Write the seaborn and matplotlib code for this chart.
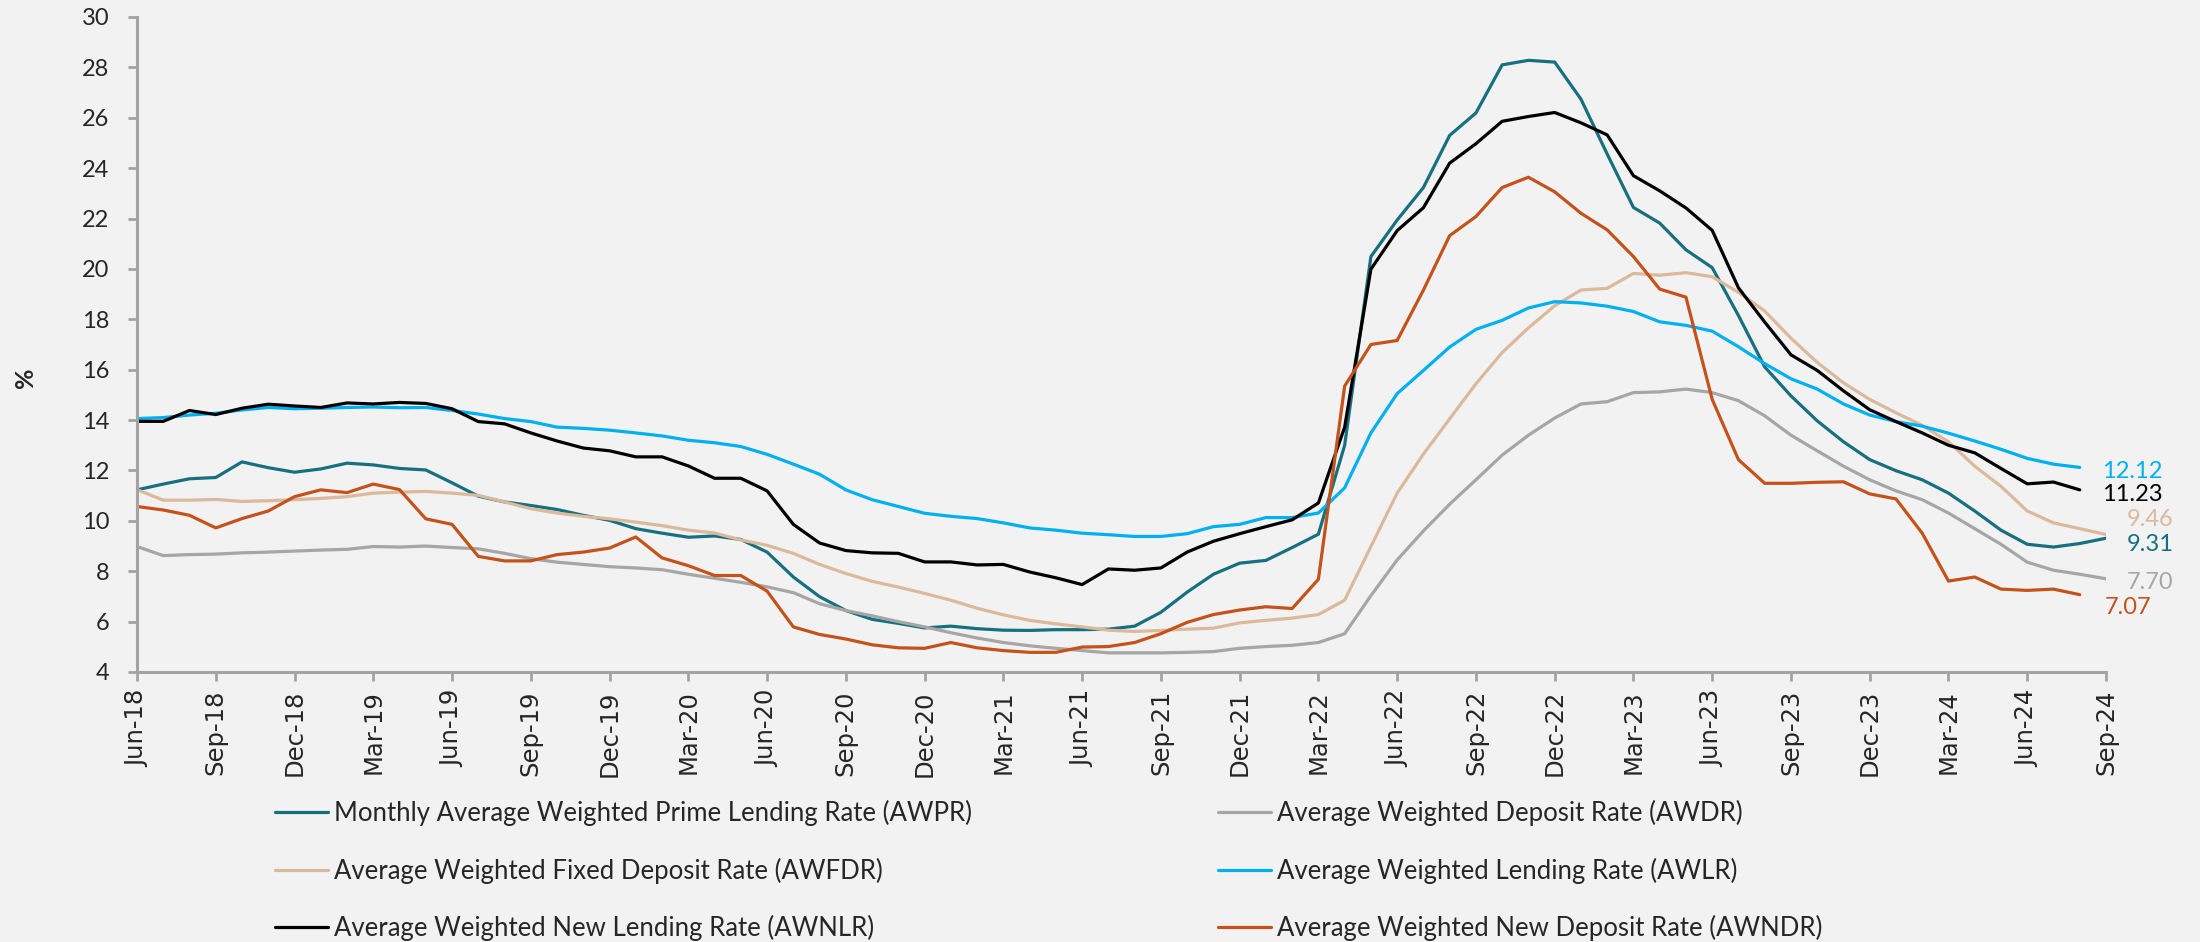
import numpy as np
import pandas as pd
import matplotlib
matplotlib.use("Agg")
import matplotlib.pyplot as plt
import seaborn as sns

# Monthly category axis, Jun-18 .. Sep-24
months = pd.date_range("2018-06-01", "2024-09-01", freq="MS").strftime("%b-%y").tolist()

# Rates in percent
awpr = [11.23, 11.46, 11.67, 11.72, 12.34, 12.11, 11.93, 12.06, 12.29, 12.22, 12.08, 12.02,
        11.51, 10.98, 10.75, 10.61, 10.45, 10.22, 10.02, 9.69, 9.51, 9.35, 9.40, 9.26,
        8.76, 7.77, 6.99, 6.44, 6.09, 5.93, 5.75, 5.82, 5.72, 5.66, 5.65, 5.68,
        5.68, 5.70, 5.82, 6.37, 7.17, 7.88, 8.32, 8.43, 8.94, 9.47, 13.00, 20.49,
        21.94, 23.23, 25.30, 26.19, 28.10, 28.28, 28.21, 26.74, 24.56, 22.44, 21.82, 20.76,
        20.05, 18.15, 16.11, 14.96, 13.97, 13.14, 12.43, 11.99, 11.63, 11.10, 10.39, 9.63,
        9.07, 8.96, 9.10, 9.31]

awdr = [8.98, 8.62, 8.66, 8.68, 8.73, 8.76, 8.80, 8.84, 8.87, 8.98, 8.96, 9.00,
        8.94, 8.89, 8.71, 8.50, 8.36, 8.27, 8.18, 8.13, 8.06, 7.88, 7.72, 7.56,
        7.38, 7.15, 6.71, 6.44, 6.23, 6.00, 5.79, 5.56, 5.35, 5.17, 5.04, 4.94,
        4.85, 4.76, 4.76, 4.76, 4.78, 4.81, 4.94, 5.01, 5.06, 5.17, 5.52, 7.03,
        8.45, 9.60, 10.66, 11.63, 12.61, 13.40, 14.08, 14.64, 14.73, 15.09, 15.12, 15.23,
        15.09, 14.77, 14.17, 13.40, 12.78, 12.17, 11.63, 11.19, 10.84, 10.31, 9.69, 9.07,
        8.36, 8.04, 7.88, 7.70]

awfdr = [11.24, 10.82, 10.82, 10.85, 10.77, 10.80, 10.84, 10.89, 10.96, 11.10, 11.14, 11.17,
         11.10, 11.01, 10.75, 10.48, 10.31, 10.18, 10.08, 9.95, 9.81, 9.63, 9.52, 9.24,
         9.03, 8.71, 8.27, 7.91, 7.60, 7.37, 7.12, 6.85, 6.53, 6.27, 6.05, 5.91,
         5.79, 5.66, 5.61, 5.65, 5.70, 5.74, 5.95, 6.05, 6.14, 6.28, 6.85, 8.98,
         11.10, 12.65, 14.05, 15.44, 16.68, 17.66, 18.54, 19.16, 19.23, 19.82, 19.75, 19.85,
         19.69, 19.07, 18.33, 17.25, 16.29, 15.48, 14.82, 14.29, 13.79, 13.14, 12.17, 11.37,
         10.39, 9.92, 9.69, 9.46]

awlr = [14.06, 14.10, 14.20, 14.27, 14.40, 14.50, 14.45, 14.47, 14.50, 14.52, 14.49, 14.50,
        14.38, 14.24, 14.06, 13.94, 13.72, 13.67, 13.60, 13.49, 13.37, 13.20, 13.10, 12.95,
        12.64, 12.25, 11.85, 11.23, 10.84, 10.57, 10.30, 10.18, 10.09, 9.92, 9.72, 9.63,
        9.51, 9.45, 9.38, 9.38, 9.49, 9.77, 9.86, 10.13, 10.13, 10.31, 11.31, 13.49,
        15.05, 15.97, 16.90, 17.60, 17.96, 18.45, 18.70, 18.65, 18.52, 18.31, 17.90, 17.76,
        17.53, 16.91, 16.24, 15.64, 15.23, 14.64, 14.20, 13.94, 13.76, 13.48, 13.17, 12.84,
        12.48, 12.25, 12.12]

awnlr = [13.95, 13.95, 14.38, 14.22, 14.47, 14.63, 14.56, 14.50, 14.68, 14.64, 14.70, 14.66,
         14.45, 13.94, 13.85, 13.49, 13.17, 12.89, 12.78, 12.54, 12.54, 12.18, 11.69, 11.69,
         11.19, 9.86, 9.12, 8.82, 8.73, 8.71, 8.37, 8.37, 8.25, 8.27, 7.97, 7.74,
         7.47, 8.09, 8.04, 8.13, 8.76, 9.19, 9.49, 9.77, 10.04, 10.71, 13.72, 19.99,
         21.52, 22.43, 24.20, 24.97, 25.86, 26.05, 26.21, 25.80, 25.32, 23.70, 23.10, 22.42,
         21.53, 19.25, 17.89, 16.59, 15.97, 15.16, 14.41, 13.94, 13.49, 13.00, 12.70, 12.08,
         11.47, 11.54, 11.23]

awndr = [10.57, 10.43, 10.22, 9.72, 10.09, 10.39, 10.96, 11.23, 11.12, 11.46, 11.24, 10.08,
         9.86, 8.59, 8.41, 8.41, 8.66, 8.76, 8.92, 9.36, 8.53, 8.22, 7.83, 7.83,
         7.21, 5.79, 5.49, 5.31, 5.08, 4.96, 4.94, 5.17, 4.96, 4.85, 4.78, 4.78,
         4.99, 5.01, 5.17, 5.52, 5.97, 6.28, 6.46, 6.59, 6.52, 7.68, 15.35, 17.00,
         17.16, 19.16, 21.32, 22.08, 23.23, 23.64, 23.06, 22.21, 21.55, 20.49, 19.20, 18.88,
         14.82, 12.43, 11.49, 11.49, 11.53, 11.55, 11.07, 10.87, 9.51, 7.61, 7.77, 7.29,
         7.24, 7.29, 7.07]

series = [
    ("Monthly Average Weighted Prime Lending Rate (AWPR)", awpr, "#17707f"),
    ("Average Weighted Deposit Rate (AWDR)", awdr, "#a6a6a6"),
    ("Average Weighted Fixed Deposit Rate (AWFDR)", awfdr, "#dbb99c"),
    ("Average Weighted Lending Rate (AWLR)", awlr, "#00b0f0"),
    ("Average Weighted New Lending Rate (AWNLR)", awnlr, "#000000"),
    ("Average Weighted New Deposit Rate (AWNDR)", awndr, "#c4521a"),
]

# end-of-line value labels: (dx, dy) offsets in points
label_offsets = {
    "Monthly Average Weighted Prime Lending Rate (AWPR)": (15, -4.5),
    "Average Weighted Deposit Rate (AWDR)": (15, -3),
    "Average Weighted Fixed Deposit Rate (AWFDR)": (15, 10.5),
    "Average Weighted Lending Rate (AWLR)": (16, -3),
    "Average Weighted New Lending Rate (AWNLR)": (16, -3),
    "Average Weighted New Deposit Rate (AWNDR)": (18, -9.5),
}

frames = []
for name, vals, _ in series:
    frames.append(pd.DataFrame({"idx": np.arange(len(vals)), "rate": vals, "series": name}))
df = pd.concat(frames, ignore_index=True)

sns.set_style("white")
plt.rcParams["font.family"] = ["Lato", "DejaVu Sans"]

bg = "#f2f2f2"
spine_c = "#a3a3a3"
fig = plt.figure(figsize=(22, 9.42), dpi=100, facecolor=bg)
ax = fig.add_axes([137 / 2200, 1 - 672 / 942, (2106 - 137) / 2200, (672 - 17) / 942])
ax.set_facecolor(bg)

palette = {name: c for name, _, c in series}
sns.lineplot(data=df, x="idx", y="rate", hue="series", hue_order=[s[0] for s in series],
             palette=palette, linewidth=2.3, ax=ax, legend=False)

for name, vals, c in series:
    dx, dy = label_offsets[name]
    ax.annotate(f"{vals[-1]:.2f}", xy=(len(vals) - 1, vals[-1]), xytext=(dx, dy),
                textcoords="offset points", ha="left", va="center",
                fontsize=17, color=c, family="Lato")

ax.set_xlim(0, len(months) - 1)
ax.set_ylim(4, 30)
ax.set_yticks(np.arange(4, 31, 2))
ax.set_xticks(np.arange(0, len(months), 3))
ax.set_xticklabels(months[::3], rotation=90, family="DejaVu Sans", fontsize=17.5)
ax.tick_params(axis="y", labelsize=17, length=6.5, width=2, color=spine_c, pad=13.5, direction="out", left=True)
ax.tick_params(axis="x", length=6.5, width=2, color=spine_c, pad=6.5, direction="out", bottom=True)
for lab in ax.get_yticklabels():
    lab.set_family("Lato")
ax.set_xlabel("")
ax.set_ylabel("")
for side in ["top", "right"]:
    ax.spines[side].set_visible(False)
for side in ["left", "bottom"]:
    ax.spines[side].set_color(spine_c)
    ax.spines[side].set_linewidth(2.2)

fig.text(26 / 2200, 1 - 378 / 942, "%", rotation=90, ha="center", va="center",
         fontsize=18, fontweight="bold", family="Lato")

# two legend columns below the plot
handles = ax.get_lines()[:len(series)]
labels = [s[0] for s in series]
order_cols = [[0, 2, 4], [1, 3, 5]]
col_x = [275 / 2200, 1218 / 2200]
for xs, idxs in zip(col_x, order_cols):
    fig.legend([handles[i] for i in idxs], [labels[i] for i in idxs],
               loc="upper left", bbox_to_anchor=(xs, 1 - 800 / 942),
               frameon=False, fontsize=18.5, handlelength=2.05, handletextpad=0.24,
               labelspacing=1.22, borderpad=0, borderaxespad=0)

fig.savefig("out.png", dpi=100, facecolor=bg)
